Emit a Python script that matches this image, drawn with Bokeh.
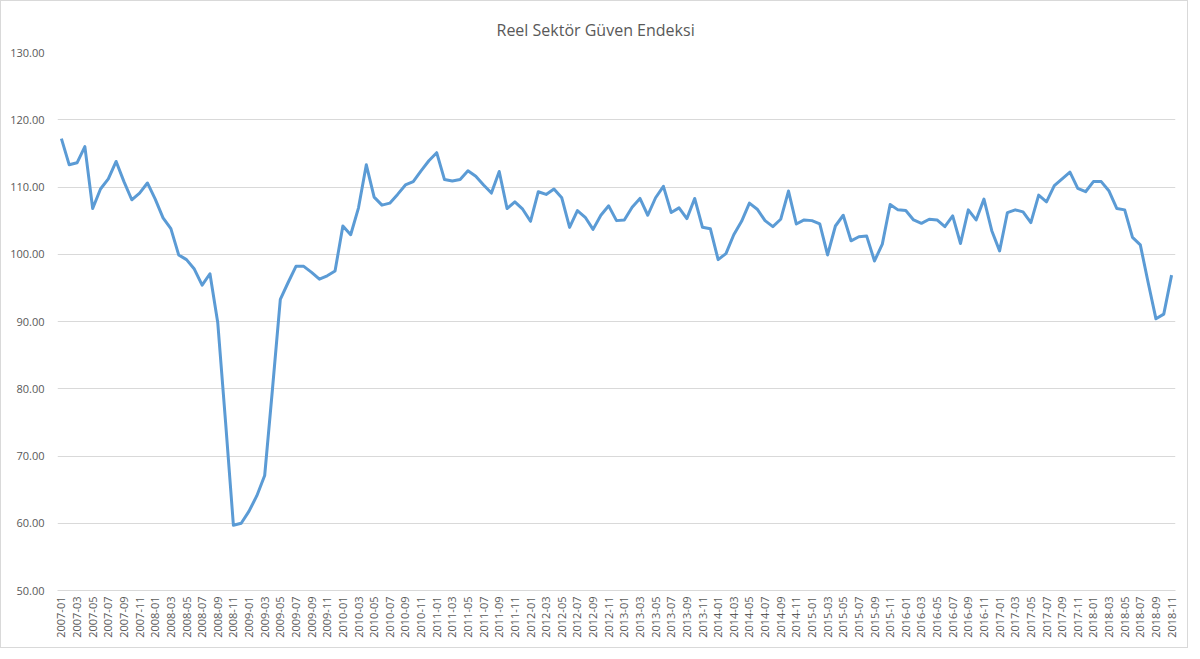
import math
from bokeh.plotting import figure
from bokeh.models import FixedTicker, NumeralTickFormatter, Range1d, ColumnDataSource
from bokeh.embed import file_html
from bokeh.resources import INLINE

# Month labels 2007-01 .. 2018-11
months = [f"{y}-{m:02d}" for y in range(2007, 2019) for m in range(1, 13)][:143]

values = [
    117.2, 113.3, 113.6, 116.0, 106.8, 109.7, 111.2, 113.8, 110.8, 108.1, 109.1, 110.6,  # 2007
    108.2, 105.4, 103.8, 99.9, 99.2, 97.8, 95.4, 97.1, 89.8, 75.0, 59.7, 60.0,          # 2008
    61.8, 64.1, 67.1, 80.0, 93.3, 95.8, 98.2, 98.2, 97.3, 96.3, 96.8, 97.5,             # 2009
    104.2, 102.9, 106.9, 113.3, 108.5, 107.3, 107.6, 108.9, 110.3, 110.8, 112.4, 113.9, # 2010
    115.1, 111.1, 110.9, 111.1, 112.4, 111.6, 110.3, 109.1, 112.3, 106.8, 107.8, 106.7, # 2011
    104.9, 109.3, 108.9, 109.7, 108.4, 104.0, 106.5, 105.5, 103.7, 105.8, 107.2, 105.0, # 2012
    105.1, 107.0, 108.3, 105.8, 108.4, 110.1, 106.2, 106.9, 105.3, 108.3, 104.0, 103.8, # 2013
    99.2, 100.1, 102.9, 104.9, 107.6, 106.7, 105.0, 104.1, 105.2, 109.4, 104.5, 105.1,  # 2014
    105.0, 104.5, 99.9, 104.2, 105.8, 102.0, 102.6, 102.7, 99.0, 101.5, 107.4, 106.6,   # 2015
    106.5, 105.1, 104.6, 105.2, 105.1, 104.1, 105.7, 101.6, 106.6, 105.1, 108.2, 103.5, # 2016
    100.5, 106.2, 106.6, 106.3, 104.7, 108.8, 107.8, 110.2, 111.2, 112.2, 109.8, 109.3, # 2017
    110.8, 110.8, 109.4, 106.8, 106.6, 102.5, 101.4, 95.8, 90.4, 91.1, 96.9,            # 2018
]

title_text = "Reel Sektör Güven Endeksi"
y_ticks = [50, 60, 70, 80, 90, 100, 110, 120, 130]

xs = list(range(len(values)))
src = ColumnDataSource(dict(x=xs, y=values))

p = figure(
    width=1188, height=648,
    output_backend="svg", toolbar_location=None,
    x_range=Range1d(-0.5, len(values) - 0.5),
    y_range=Range1d(50, 130),
    min_border_left=56, min_border_right=14,
    min_border_top=51, min_border_bottom=59,
    title=title_text,
)
p.styles = {"border": "1px solid #d9d9d9"}

p.line("x", "y", source=src, line_color="#5b9bd5", line_width=3, line_join="round")

# Title
p.title.align = "left"
p.title.offset = 439
p.title.vertical_align = "top"
p.title.text_font = "Open Sans"
p.title.text_font_style = "normal"
p.title.text_font_size = "16px"
p.title.text_color = "#595959"
p.title.standoff = 20

p.outline_line_color = None
p.background_fill_color = "white"
p.border_fill_color = "white"

# Y axis
p.yaxis.ticker = FixedTicker(ticks=y_ticks)
p.yaxis.formatter = NumeralTickFormatter(format="0.00")
p.yaxis.axis_line_color = None
p.yaxis.major_tick_line_color = None
p.yaxis.major_tick_out = 0
p.yaxis.major_tick_in = 0
p.yaxis.minor_tick_line_color = None
p.yaxis.major_label_text_font = "Open Sans"
p.yaxis.major_label_text_font_size = "11px"
p.yaxis.major_label_text_color = "#595959"
p.yaxis.major_label_standoff = 13

# X axis
tick_pos = list(range(0, len(values), 2))
p.xaxis.ticker = FixedTicker(ticks=tick_pos)
p.xaxis.major_label_overrides = {i: months[i] for i in tick_pos}
p.xaxis.major_label_orientation = math.pi / 2
p.xaxis.axis_line_color = "#d9d9d9"
p.xaxis.major_tick_line_color = None
p.xaxis.major_tick_out = 0
p.xaxis.major_tick_in = 0
p.xaxis.minor_tick_line_color = None
p.xaxis.major_label_text_font = "Open Sans"
p.xaxis.major_label_text_font_size = "11px"
p.xaxis.major_label_text_color = "#595959"
p.xaxis.major_label_standoff = 6

p.xgrid.grid_line_color = None
p.ygrid.grid_line_color = "#d9d9d9"
p.ygrid.grid_line_width = 1

open("out.html", "w").write(file_html(p, INLINE))
